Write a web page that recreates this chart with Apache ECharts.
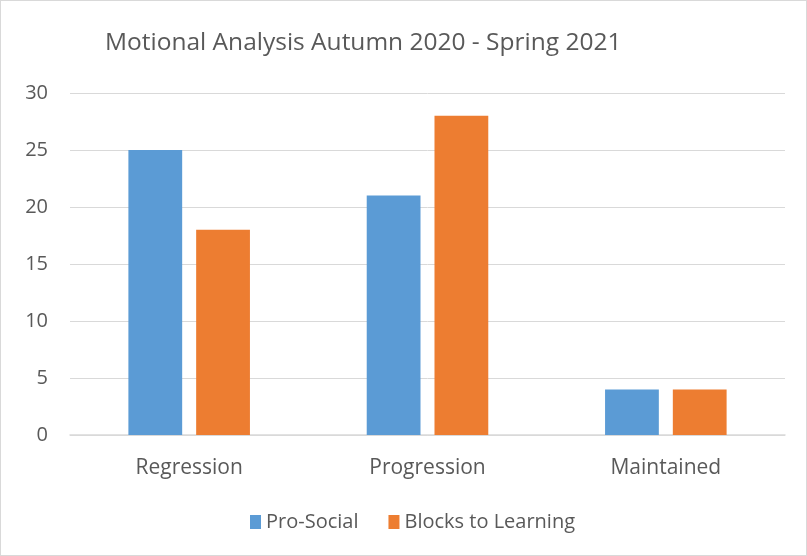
<!DOCTYPE html>
<html><head><meta charset="utf-8">
<script src="https://cdn.jsdelivr.net/npm/echarts@6/dist/echarts.min.js"></script>
<style>html,body{margin:0;padding:0;background:#fff}#c{width:807px;height:556px;box-sizing:border-box;border:1px solid #d9d9d9}</style>
</head><body><div id="c"></div>
<script>
const categories = ["Regression", "Progression", "Maintained"];
const proSocial = [25, 21, 4];
const blocksToLearning = [18, 28, 4];
const seriesNames = ["Pro-Social", "Blocks to Learning"];
const chart = echarts.init(document.getElementById('c'));
chart.setOption({
  animation: false,
  title: { text: "Motional Analysis Autumn 2020 - Spring 2021", left: 99, top: 25,
    textStyle: { fontFamily: "Open Sans", fontWeight: "normal", fontSize: 24.5, color: "#595959" } },
  grid: { left: 69, right: 21, top: 92, bottom: 120 },
  legend: { bottom: 18, left: 244, itemWidth: 11, itemHeight: 14, itemGap: 30,
    icon: "rect",
    textStyle: { fontFamily: "Open Sans", fontSize: 20, color: "#595959" } },
  xAxis: { type: "category", data: categories,
    axisLine: { lineStyle: { color: "#d9d9d9", width: 1.5 } }, axisTick: { show: false },
    axisLabel: { margin: 23, fontFamily: "Open Sans", fontSize: 21, color: "#595959" } },
  yAxis: { type: "value", min: 0, max: 30, interval: 5,
    splitLine: { lineStyle: { color: "#d9d9d9" } },
    axisLabel: { margin: 22, fontFamily: "Open Sans", fontSize: 20, color: "#595959" } },
  series: [
    { name: seriesNames[0], type: "bar", data: proSocial, itemStyle: { color: "#5B9BD5" }, barGap: "26%", barCategoryGap: "49%" },
    { name: seriesNames[1], type: "bar", data: blocksToLearning, itemStyle: { color: "#ED7D31" }, barGap: "26%", barCategoryGap: "49%" }
  ]
});
</script></body></html>
